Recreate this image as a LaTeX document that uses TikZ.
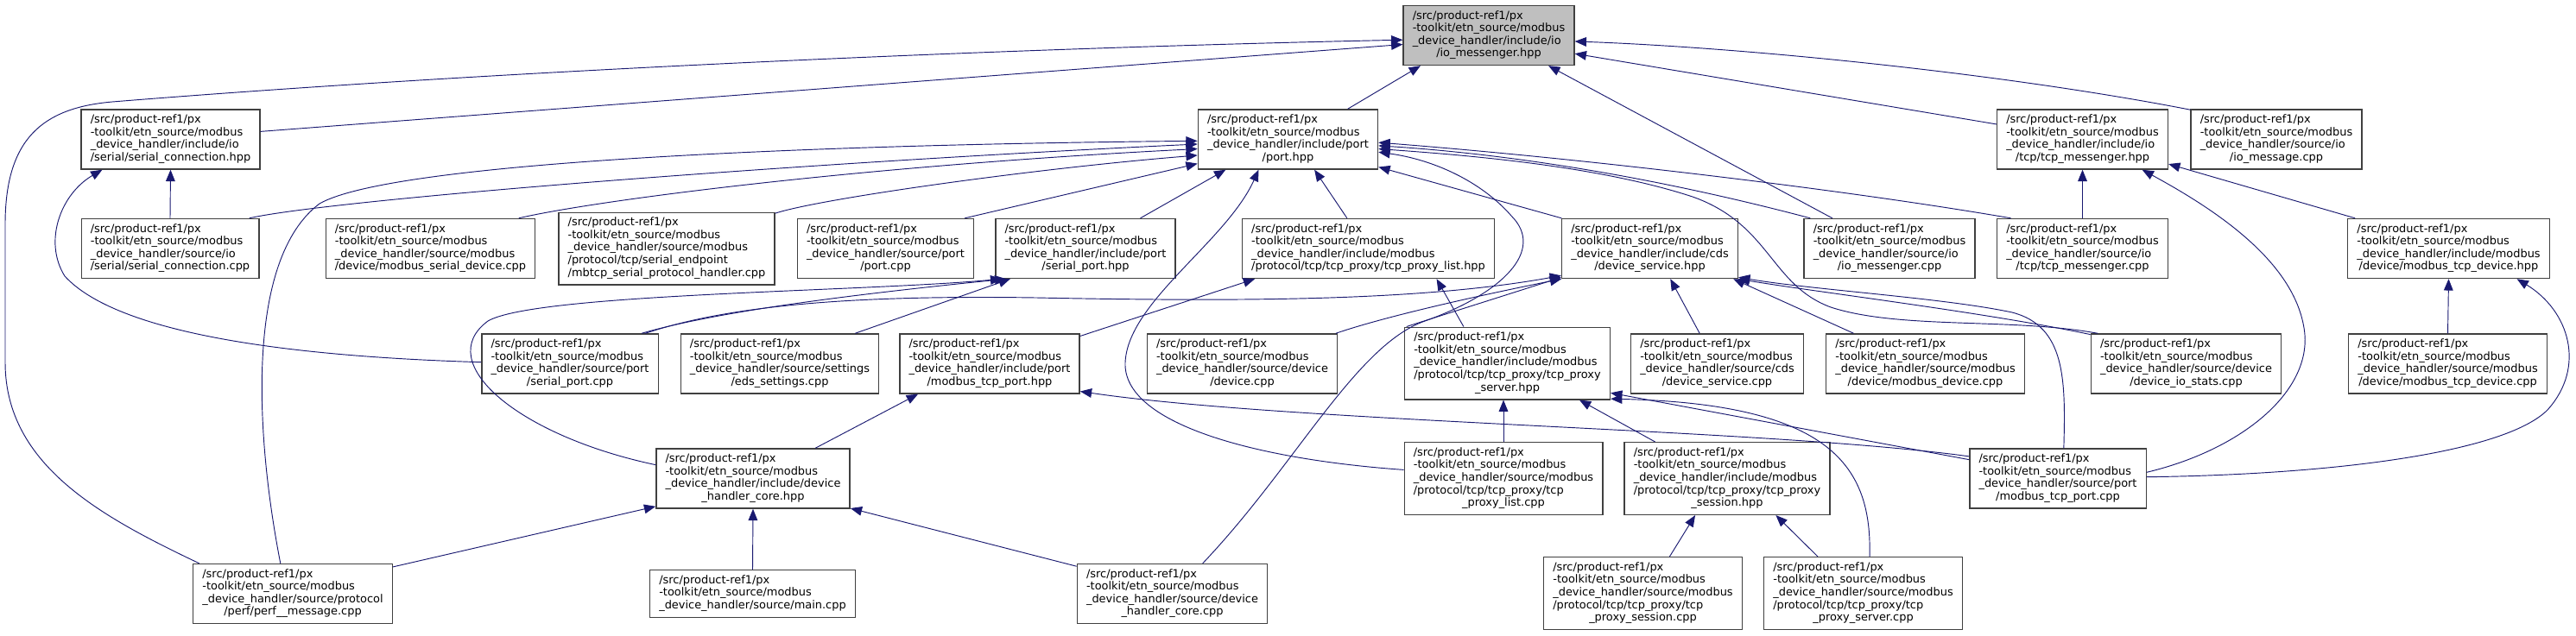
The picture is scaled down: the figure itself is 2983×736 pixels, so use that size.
\documentclass[tikz,border=0pt]{standalone}
\usepackage{fontspec}
\setmainfont{DejaVu Sans}
\usetikzlibrary{arrows.meta}

\definecolor{edgeblue}{HTML}{191970}
\definecolor{boxgray}{HTML}{404040}
\definecolor{curgray}{HTML}{BFBFBF}

% common first two lines of every file box
\newcommand{\pre}{/src/product-ref1/px\\-toolkit/etn\_source/modbus}
% left aligned lines, last line centred
\newcommand{\fpath}[2]{\begin{tabular}{@{}l@{}}#1\\\multicolumn{1}{@{}c@{}}{#2}\end{tabular}}

\begin{document}
\begin{tikzpicture}[x=0.75pt,y=-0.75pt,
  file/.style={draw=boxgray,line width=1pt,fill=white,inner xsep=8pt,inner ysep=4pt,
    font=\fontsize{9.7}{10.95}\selectfont},
  dep/.style={draw=edgeblue,line width=0.7pt,-{Triangle[length=10pt,width=8pt]}}]
  \useasboundingbox (0,0) rectangle (2983,736);

  % Top file and first row.
  \node[file,fill=curgray] (iomsgh) at (1724,41) {\fpath{\pre\\\_device\_handler/include/io}{/io\_messenger.hpp}};
  \node[file] (serconh) at (197.5,161.5) {\fpath{\pre\\\_device\_handler/include/io}{/serial/serial\_connection.hpp}};
  \node[file] (porth) at (1491.5,161.5) {\fpath{\pre\\\_device\_handler/include/port}{/port.hpp}};
  \node[file] (tcpmsgh) at (2411.5,161.5) {\fpath{\pre\\\_device\_handler/include/io}{/tcp/tcp\_messenger.hpp}};
  \node[file] (iomsgec) at (2636,161.5) {\fpath{\pre\\\_device\_handler/source/io}{/io\_message.cpp}};

  % Second row.
  \node[file] (serconc) at (197,288) {\fpath{\pre\\\_device\_handler/source/io}{/serial/serial\_connection.cpp}};
  \node[file] (mbserdevc) at (498.5,288) {\fpath{\pre\\\_device\_handler/source/modbus}{/device/modbus\_serial\_device.cpp}};
  \node[file] (mbtcpc) at (772,288) {\fpath{\pre\\\_device\_handler/source/modbus\\/protocol/tcp/serial\_endpoint}{/mbtcp\_serial\_protocol\_handler.cpp}};
  \node[file] (portc) at (1025.5,288) {\fpath{\pre\\\_device\_handler/source/port}{/port.cpp}};
  \node[file] (serporth) at (1257,288) {\fpath{\pre\\\_device\_handler/include/port}{/serial\_port.hpp}};
  \node[file] (proxylisth) at (1584.5,288) {\fpath{\pre\\\_device\_handler/include/modbus}{/protocol/tcp/tcp\_proxy/tcp\_proxy\_list.hpp}};
  \node[file] (devsvch) at (1910.5,288) {\fpath{\pre\\\_device\_handler/include/cds}{/device\_service.hpp}};
  \node[file] (iomsgc) at (2188,288) {\fpath{\pre\\\_device\_handler/source/io}{/io\_messenger.cpp}};
  \node[file] (tcpmsgc) at (2411.5,288) {\fpath{\pre\\\_device\_handler/source/io}{/tcp/tcp\_messenger.cpp}};
  \node[file] (mbtcpdevh) at (2835.5,288) {\fpath{\pre\\\_device\_handler/include/modbus}{/device/modbus\_tcp\_device.hpp}};

  % Third row.
  \node[file] (serportc) at (660,421.5) {\fpath{\pre\\\_device\_handler/source/port}{/serial\_port.cpp}};
  \node[file] (edsc) at (903,421.5) {\fpath{\pre\\\_device\_handler/source/settings}{/eds\_settings.cpp}};
  \node[file] (mbtcpporth) at (1146,421.5) {\fpath{\pre\\\_device\_handler/include/port}{/modbus\_tcp\_port.hpp}};
  \node[file] (devicec) at (1438.5,421.5) {\fpath{\pre\\\_device\_handler/source/device}{/device.cpp}};
  \node[file] (proxyserverh) at (1745.5,421) {\fpath{\pre\\\_device\_handler/include/modbus\\/protocol/tcp/tcp\_proxy/tcp\_proxy}{\_server.hpp}};
  \node[file] (devsvcc) at (1988.5,421.5) {\fpath{\pre\\\_device\_handler/source/cds}{/device\_service.cpp}};
  \node[file] (mbdevc) at (2229.5,421.5) {\fpath{\pre\\\_device\_handler/source/modbus}{/device/modbus\_device.cpp}};
  \node[file] (iostatsc) at (2531.5,421.5) {\fpath{\pre\\\_device\_handler/source/device}{/device\_io\_stats.cpp}};
  \node[file] (mbtcpdevc) at (2834.5,421.5) {\fpath{\pre\\\_device\_handler/source/modbus}{/device/modbus\_tcp\_device.cpp}};

  % Fourth row.
  \node[file] (coreh) at (872,554.5) {\fpath{\pre\\\_device\_handler/include/device}{\_handler\_core.hpp}};
  \node[file] (proxylistc) at (1741,554.5) {\fpath{\pre\\\_device\_handler/source/modbus\\/protocol/tcp/tcp\_proxy/tcp}{\_proxy\_list.cpp}};
  \node[file] (sessionh) at (2000,554.5) {\fpath{\pre\\\_device\_handler/include/modbus\\/protocol/tcp/tcp\_proxy/tcp\_proxy}{\_session.hpp}};
  \node[file] (mbtcpportc) at (2383,554.5) {\fpath{\pre\\\_device\_handler/source/port}{/modbus\_tcp\_port.cpp}};

  % Bottom row.
  \node[file] (perfc) at (339,688) {\fpath{\pre\\\_device\_handler/source/protocol}{/perf/perf\_\_message.cpp}};
  \node[file] (mainc) at (871.5,688) {\fpath{\pre}{\_device\_handler/source/main.cpp}};
  \node[file] (corec) at (1357.5,688) {\fpath{\pre\\\_device\_handler/source/device}{\_handler\_core.cpp}};
  \node[file] (sessionc) at (1902.5,687.5) {\fpath{\pre\\\_device\_handler/source/modbus\\/protocol/tcp/tcp\_proxy/tcp}{\_proxy\_session.cpp}};
  \node[file] (serverc) at (2157.5,687.5) {\fpath{\pre\\\_device\_handler/source/modbus\\/protocol/tcp/tcp\_proxy/tcp}{\_proxy\_server.cpp}};

  % Includes of io_messenger.hpp.
  \draw[dep] (serconh.5) -- (iomsgh.186);
  \draw[dep] (perfc.162) .. controls (120,600) and (6,540) .. (6,420) -- (6,260) .. controls (6,160) and (50,125) .. (130,118) .. controls (600,80) and (1200,55) .. (iomsgh.183);
  \draw[dep] (porth.27) -- (iomsgh.204);
  \draw[dep] (iomsgc.152) -- (iomsgh.333);
  \draw[dep] (tcpmsgh.170) -- (iomsgh.348);
  \draw[dep] (iomsgec.161) .. controls (2320,85) and (2020,55) .. (iomsgh.356);

  % Includes of serial_connection.hpp.
  \draw[dep] (serconc.north) -- (serconh.south);
  \draw[dep] (serportc.179) .. controls (300,412) and (130,380) .. (75,320) .. controls (50,280) and (70,225) .. (serconh.204);

  % Includes of port.hpp.
  \draw[dep] (serconc.21) .. controls (380,232) and (900,190) .. (porth.183);
  \draw[dep] (mbserdevc.19) .. controls (690,232) and (1000,192) .. (porth.186);
  \draw[dep] (mbtcpc.18) .. controls (950,230) and (1200,195) .. (porth.190);
  \draw[dep] (portc.21) -- (porth.195);
  \draw[dep] (serporth.29) -- (porth.206);
  \draw[dep] (perfc.112) .. controls (295,500) and (285,300) .. (370,236) .. controls (450,190) and (900,168) .. (porth.181);
  \draw[dep] (proxylistc.175) .. controls (1450,532) and (1300,490) .. (1303,420) .. controls (1306,350) and (1420,280) .. (porth.226);
  \draw[dep] (proxylisth.125) -- (porth.311);
  \draw[dep] (devsvch.161) -- (porth.343);
  \draw[dep] (iomsgc.159) .. controls (1980,222) and (1800,182) .. (porth.356);
  \draw[dep] (tcpmsgc.157) .. controls (2150,222) and (1850,185) .. (porth.358);
  \draw[dep] (iostatsc.161) .. controls (2330,368) and (2200,382) .. (2120,356) .. controls (2050,330) and (2050,260) .. (1960,228) .. controls (1850,192) and (1700,180) .. (porth.354);
  \draw[dep] (corec.45) .. controls (1500,540) and (1570,400) .. (1650,372) .. controls (1740,340) and (1790,290) .. (1750,250) .. controls (1715,210) and (1660,185) .. (porth.352);

  % Includes of tcp_messenger.hpp and modbus_tcp_device.hpp.
  \draw[dep] (tcpmsgc.north) -- (tcpmsgh.south);
  \draw[dep] (mbtcpportc.4) .. controls (2600,520) and (2680,450) .. (2668,380) .. controls (2655,300) and (2560,240) .. (tcpmsgh.333);
  \draw[dep] (mbtcpdevh.162) -- (tcpmsgh.344);
  \draw[dep] (mbtcpdevc.north) -- (mbtcpdevh.south);
  \draw[dep] (mbtcpportc.1) .. controls (2700,550) and (2900,525) .. (2950,475) .. controls (2995,425) and (2975,360) .. (mbtcpdevh.336);

  % Includes of serial_port.hpp.
  \draw[dep] (coreh.172) .. controls (600,505) and (500,420) .. (565,372) .. controls (620,340) and (1000,338) .. (serporth.200);
  \draw[dep] (serportc.23) .. controls (820,364) and (950,345) .. (serporth.201);
  \draw[dep] (edsc.22) -- (serporth.202);

  % Includes of device_service.hpp.
  \draw[dep] (serportc.22) .. controls (850,352) and (1000,342) .. (1200,345) .. controls (1450,350) and (1650,348) .. (devsvch.197);
  \draw[dep] (devicec.18) .. controls (1600,368) and (1700,345) .. (devsvch.199);
  \draw[dep] (proxyserverh.160) .. controls (1680,362) and (1750,340) .. (devsvch.198);
  \draw[dep] (devsvcc.120) -- (devsvch.304);
  \draw[dep] (mbdevc.157) -- (devsvch.340);
  \draw[dep] (iostatsc.163) .. controls (2300,362) and (2100,338) .. (devsvch.341);
  \draw[dep] (mbtcpportc.79) .. controls (2392,440) and (2392,378) .. (2330,362) .. controls (2250,345) and (2100,336) .. (devsvch.342);

  % Includes of modbus_tcp_port.hpp and tcp_proxy_list.hpp.
  \draw[dep] (coreh.26) -- (mbtcpporth.203);
  \draw[dep] (mbtcpportc.166) .. controls (2050,497) and (1500,490) .. (mbtcpporth.343);
  \draw[dep] (mbtcpporth.17) -- (proxylisth.195);
  \draw[dep] (proxyserverh.140) -- (proxylisth.336);

  % Includes of the tcp proxy headers.
  \draw[dep] (proxylistc.north) -- (proxylistc.north |- proxyserverh.south);
  \draw[dep] (sessionh.153) -- (proxyserverh.333);
  \draw[dep] (serverc.80) .. controls (2168,540) and (2120,468) .. (proxyserverh.341);
  \draw[dep] (mbtcpportc.168) -- (proxyserverh.344);
  \draw[dep] (sessionc.54) -- (sessionh.229);
  \draw[dep] (serverc.141) -- (sessionh.323);

  % Includes of device_handler_core.hpp.
  \draw[dep] (perfc.15) -- (coreh.196);
  \draw[dep] (mainc.north) -- (coreh.south);
  \draw[dep] (corec.164) -- (coreh.343);
\end{tikzpicture}
\end{document}
